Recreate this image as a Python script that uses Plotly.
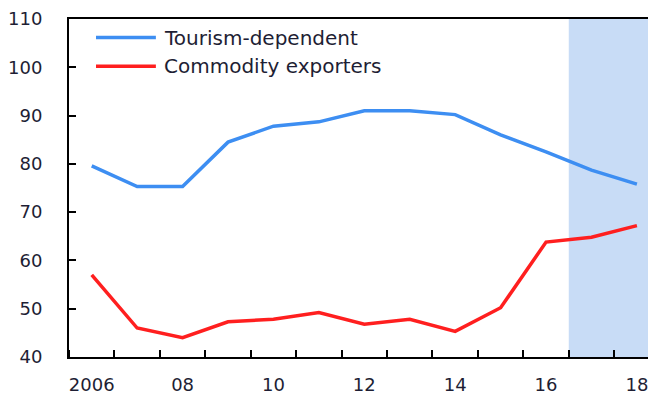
import plotly.graph_objects as go

years = list(range(2006, 2019))
tourism = [79.6, 75.3, 75.3, 84.5, 87.8, 88.7, 91.0, 91.0, 90.2, 86.0, 82.5, 78.7, 75.8]
commodity = [57.0, 46.0, 44.0, 47.3, 47.8, 49.2, 46.8, 47.8, 45.3, 50.2, 63.8, 64.8, 67.2]
series_names = ["Tourism-dependent", "Commodity exporters"]
xtick_vals = [2006, 2008, 2010, 2012, 2014, 2016, 2018]
xtick_text = ["2006", "08", "10", "12", "14", "16", "18"]
forecast_start = 2016.5

blue = "#3d8ef2"
red = "#ff1f1f"
txt = "#1e1e34"
font = "DejaVu Sans"

fig = go.Figure()
fig.add_vrect(x0=forecast_start, x1=2018.6, fillcolor="#c8dcf6", line_width=0, layer="below")
fig.add_trace(go.Scatter(x=years, y=tourism, mode="lines", name=series_names[0],
                         line=dict(color=blue, width=3.5), showlegend=False))
fig.add_trace(go.Scatter(x=years, y=commodity, mode="lines", name=series_names[1],
                         line=dict(color=red, width=3.5), showlegend=False))

# manual legend
for i, (nm, col) in enumerate(zip(series_names, [blue, red])):
    yy = [0.945, 0.860][i]
    fig.add_shape(type="line", xref="paper", yref="paper", x0=0.046, x1=0.148, y0=yy, y1=yy,
                  line=dict(color=col, width=3.5))
    fig.add_annotation(xref="paper", yref="paper", x=0.158, y=yy, text=nm, showarrow=False,
                       xanchor="left", yanchor="middle", font=dict(family=font, size=20, color=txt))

fig.update_layout(
    width=648, height=396,
    margin=dict(l=60, r=0, t=6, b=47),
    plot_bgcolor="white", paper_bgcolor="white",
    font=dict(family=font, size=18, color=txt),
    xaxis=dict(range=[2005.5, 2018.42], tickvals=xtick_vals, ticktext=xtick_text,
               ticks="", showgrid=False, zeroline=False, showline=True, linecolor="black",
               linewidth=2, mirror=True, ticklabelstandoff=10, ticklabeloverflow="allow",
               minor=dict(tick0=2005.5, dtick=1, ticks="inside", ticklen=7, tickcolor="black",
                          tickwidth=2, showgrid=False)),
    yaxis=dict(range=[40, 110], dtick=10, ticks="inside", ticklen=7, tickcolor="black",
               tickwidth=2, showgrid=False, zeroline=False, showline=True, linecolor="black",
               linewidth=2, ticklabelstandoff=21, ticklabeloverflow="allow"),
)

fig.write_html("out.html")
